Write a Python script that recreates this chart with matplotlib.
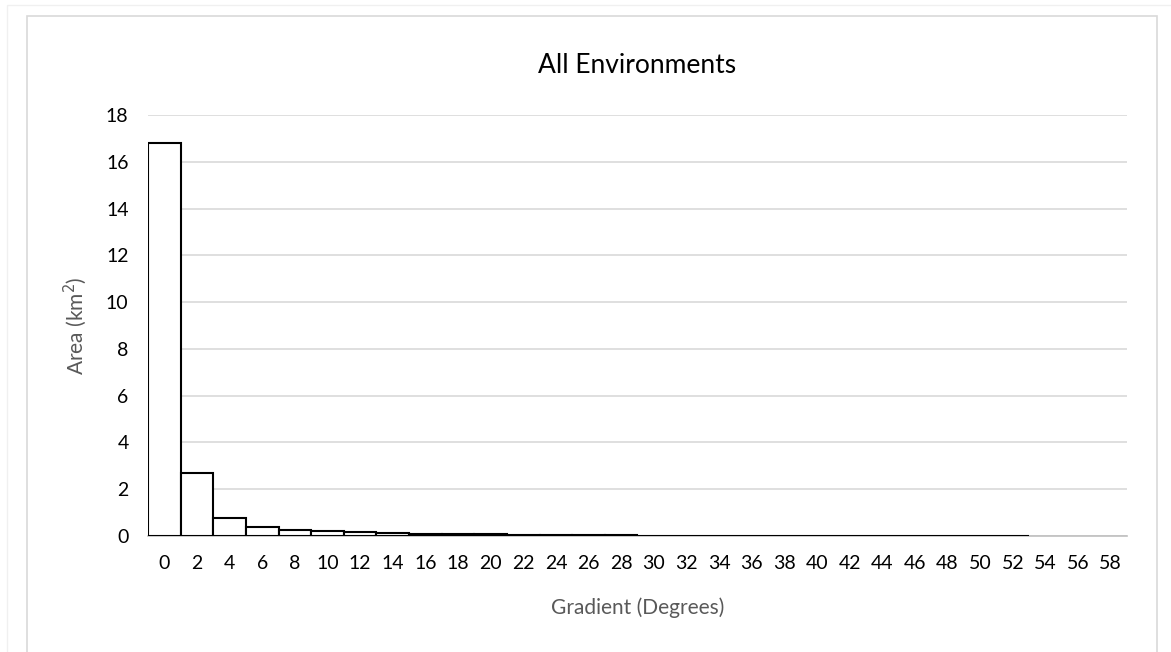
import matplotlib
matplotlib.use("Agg")
import matplotlib.pyplot as plt
from matplotlib.patches import Rectangle

# gradient classes (degrees) and area per class (km^2)
gradient = list(range(0, 60, 2))
area = [16.8, 2.71, 0.77, 0.39, 0.26, 0.21, 0.16, 0.12, 0.09, 0.08,
        0.08, 0.05, 0.04, 0.03, 0.02, 0.015, 0.012, 0.01, 0.008, 0.007,
        0.006, 0.005, 0.004, 0.003, 0.003, 0.002, 0.002, 0.0, 0.0, 0.0]

plt.rcParams['font.family'] = ['Lato', 'DejaVu Sans']

fig = plt.figure(figsize=(11.71, 6.52), dpi=100)
ax = fig.add_axes([0.1264, 0.178, 0.836, 0.6456])

# chart frames
fig.patches.append(Rectangle((7/1171, -0.1), 1.2, 1 - 5/652 + 0.1, transform=fig.transFigure,
                             fill=False, edgecolor='#f0f0f0', lw=1))
fig.patches.append(Rectangle((27/1171, -0.1), (1157-27)/1171, 1 - 16/652 + 0.1, transform=fig.transFigure,
                             fill=False, edgecolor='#d9d9d9', lw=1.2))

pos = list(range(len(gradient)))
bars = [(p, a) for p, a in zip(pos, area) if a > 0]
ax.bar([b[0] for b in bars], [b[1] for b in bars], width=1.0, color='white',
       edgecolor='black', linewidth=1.5, zorder=3)

ax.set_xlim(-0.5, len(gradient) - 0.5)
ax.set_ylim(0, 18)
ax.set_yticks(range(0, 19, 2))
ax.set_xticks(pos)
ax.set_xticklabels([str(g) for g in gradient])
ax.tick_params(axis='both', length=0, labelsize=14, colors='black')
ax.tick_params(axis='x', pad=14)
ax.tick_params(axis='y', pad=14)

ax.grid(axis='y', color='#d9d9d9', lw=1.2)
ax.set_axisbelow(True)
for s in ['top', 'right', 'left']:
    ax.spines[s].set_visible(False)
ax.spines['bottom'].set_color('#bfbfbf')
ax.spines['bottom'].set_linewidth(1.2)

ax.set_title('All Environments', fontsize=19, pad=30)
ax.set_xlabel('Gradient (Degrees)', fontsize=15, color='#595959', labelpad=18)
ax.set_ylabel('Area (km$^2$)', fontsize=15, color='#595959', labelpad=12)

fig.savefig('out.png', dpi=100)
